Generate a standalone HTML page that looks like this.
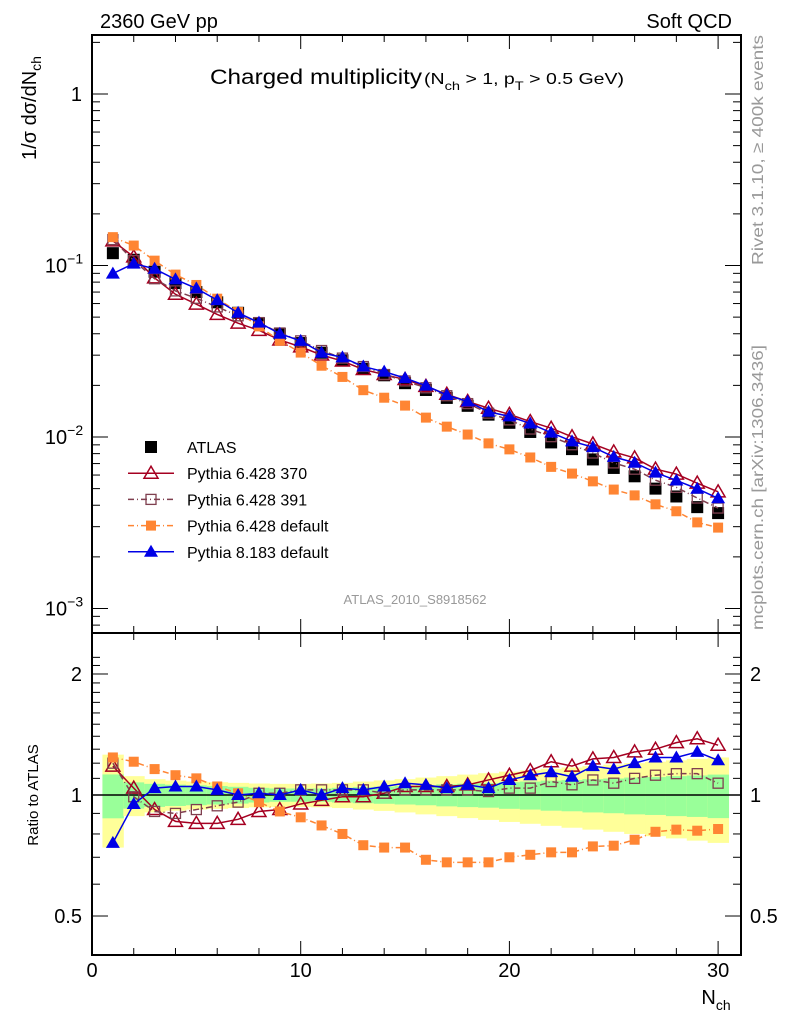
<!DOCTYPE html>
<html><head><meta charset="utf-8"><style>
body{margin:0;background:#fff;}
svg{display:block;font-family:"Liberation Sans",sans-serif;}
</style></head><body>
<svg id="c" width="786" height="1024" viewBox="0 0 786 1024" xmlns="http://www.w3.org/2000/svg">
<text x="100" y="28" font-size="20">2360 GeV pp</text>
<text x="732" y="28" font-size="20" text-anchor="end">Soft QCD</text>
<text x="210" y="84" font-size="21" textLength="212" lengthAdjust="spacingAndGlyphs">Charged multiplicity</text>
<text x="424" y="84" font-size="16" textLength="200" lengthAdjust="spacingAndGlyphs">(N<tspan font-size="12" dy="6">ch</tspan><tspan font-size="16" dy="-6"> &gt; 1, p</tspan><tspan font-size="12" dy="6">T</tspan><tspan font-size="16" dy="-6"> &gt; 0.5 GeV)</tspan></text>
<text x="415" y="604" font-size="13" fill="#999" text-anchor="middle">ATLAS_2010_S8918562</text>
<text transform="translate(763,265) rotate(-90)" font-size="16" fill="#999" textLength="230" lengthAdjust="spacingAndGlyphs">Rivet 3.1.10, ≥ 400k events</text>
<text transform="translate(763,630) rotate(-90)" font-size="16" fill="#999" textLength="285" lengthAdjust="spacingAndGlyphs">mcplots.cern.ch [arXiv:1306.3436]</text>
<text transform="translate(36,160) rotate(-90)" font-size="20">1/σ dσ/dN<tspan font-size="14" dy="5">ch</tspan></text>
<text transform="translate(38,795) rotate(-90)" font-size="15" text-anchor="middle">Ratio to ATLAS</text>
<text x="716" y="1004" font-size="20" text-anchor="middle">N<tspan font-size="14" dy="6">ch</tspan></text>
<g id="g"></g>
</svg>
<script>
const Ns=[1,2,3,4,5,6,7,8,9,10,11,12,13,14,15,16,17,18,19,20,21,22,23,24,25,26,27,28,29,30];
const atlas=[0.118,0.108,0.092,0.079,0.070,0.061,0.053,0.046,0.040,0.0353,0.031,0.028,0.025,0.0229,0.0206,0.0188,0.0169,0.0152,0.0135,0.0121,0.0107,0.0093,0.0085,0.0074,0.0066,0.0059,0.0050,0.0045,0.0039,0.0036];
const r370=[1.18,1.04,0.92,0.86,0.85,0.85,0.87,0.91,0.92,0.95,0.97,0.99,0.99,1.01,1.05,1.05,1.05,1.06,1.09,1.12,1.15,1.21,1.18,1.23,1.24,1.28,1.30,1.35,1.38,1.33];
const r391=[1.20,0.99,0.91,0.90,0.92,0.94,0.96,1.01,1.01,1.03,1.03,1.03,1.03,1.01,1.03,1.03,1.03,1.03,1.02,1.04,1.04,1.08,1.06,1.09,1.07,1.10,1.12,1.13,1.13,1.07];
const rdef=[1.24,1.21,1.16,1.12,1.10,1.05,1.01,0.96,0.91,0.88,0.84,0.80,0.75,0.74,0.74,0.69,0.68,0.68,0.68,0.70,0.71,0.72,0.72,0.745,0.748,0.774,0.81,0.82,0.815,0.823];
const r8=[0.76,0.95,1.04,1.05,1.05,1.03,1.00,1.01,1.00,1.03,1.00,1.04,1.03,1.05,1.07,1.06,1.04,1.06,1.04,1.09,1.12,1.14,1.11,1.18,1.16,1.20,1.24,1.24,1.28,1.22];
const statErr=[0.125,0.075,0.066,0.061,0.057,0.053,0.048,0.042,0.038,0.038,0.038,0.042,0.046,0.049,0.053,0.057,0.063,0.067,0.07,0.076,0.08,0.086,0.089,0.095,0.099,0.105,0.108,0.114,0.118,0.124];
const totErr=[0.26,0.114,0.095,0.086,0.08,0.076,0.072,0.068,0.066,0.066,0.068,0.072,0.08,0.087,0.095,0.105,0.114,0.124,0.133,0.143,0.152,0.162,0.171,0.18,0.19,0.2,0.21,0.22,0.23,0.24];
const xTicks=[0,10,20,30];
const yTicks=[{v:1,t:"1"},{v:0.1,t:"10",e:"−1"},{v:0.01,t:"10",e:"−2"},{v:0.001,t:"10",e:"−3"}];
const rTicks=[{v:2,t:"2"},{v:1,t:"1"},{v:0.5,t:"0.5"}];

const NS="http://www.w3.org/2000/svg";
const G=document.getElementById('g');
const L=92,R=741,T=35,M=633,B=955;
const X=v=>92+v*20.87;
const Y=v=>94-Math.log10(v)*171.5;
const RY=v=>795-Math.log10(v)*402;
function el(tag,a,p){const e=document.createElementNS(NS,tag);for(const k in a)e.setAttribute(k,a[k]);(p||G).appendChild(e);return e;}

for(let i=0;i<Ns.length;i++){
 const x0=X(Ns[i]-0.5),x1=X(Ns[i]+0.5);
 const y1=el('rect',{x:x0,y:RY(1+totErr[i]),width:x1-x0+0.5,height:RY(1-totErr[i])-RY(1+totErr[i]),fill:'#ffff99'});
 
 
 const g1=el('rect',{x:x0,y:RY(1+statErr[i]),width:x1-x0+0.5,height:RY(1-statErr[i])-RY(1+statErr[i]),fill:'#99ff99'});
 
 
}
const one=el('line',{x1:L,x2:R,y1:RY(1),y2:RY(1),stroke:'#000','stroke-width':1.5});



const f1=el('rect',{x:L,y:T,width:R-L,height:M-T,fill:'none',stroke:'#000','stroke-width':2});


const f2=el('rect',{x:L,y:M,width:R-L,height:B-M,fill:'none',stroke:'#000','stroke-width':2});



for(let v=0;v<=31;v+=2){
 const big=v%10===0,len=big?14:7;
 for(const [yt,yb] of [[T,M],[M,B]]){
  el('line',{x1:X(v),x2:X(v),y1:yt,y2:yt+len,stroke:'#000'});
  el('line',{x1:X(v),x2:X(v),y1:yb,y2:yb-len,stroke:'#000'});
 }
}
xTicks.forEach(v=>{const t=el('text',{x:X(v),y:977,'font-size':20,'text-anchor':'middle'});t.textContent=v;
 
 });
for(let d=-4;d<=0;d++)for(let m=1;m<10;m++){const v=m*Math.pow(10,d),y=Y(v);if(y<T||y>M)continue;const len=m===1?16:8;
 el('line',{x1:L,x2:L+len,y1:y,y2:y,stroke:'#000'});el('line',{x1:R,x2:R-len,y1:y,y2:y,stroke:'#000'});}
yTicks.forEach(o=>{const t=el('text',{x:o.e?64:82,y:Y(o.v)+7,'font-size':20,'text-anchor':o.e?'middle':'end'});t.textContent=o.t;
 if(o.e){const s=el('tspan',{dy:-9,'font-size':14},t);s.textContent=o.e;}
 
 });
for(let m=4;m<=22;m++){const v=m/10;const y=RY(v);if(y<M||y>B)continue;const big=(v===0.5||v===1||v===2);const len=big?16:8;
 el('line',{x1:L,x2:L+len,y1:y,y2:y,stroke:'#000'});el('line',{x1:R,x2:R-len,y1:y,y2:y,stroke:'#000'});}
rTicks.forEach(o=>{[[82,'end'],[750,'start']].forEach(([x,a])=>{const t=el('text',{x:x,y:RY(o.v)+7,'font-size':20,'text-anchor':a});t.textContent=o.t;
 
 });});

function marker(kind,col,x,y,p){
 if(kind==='sq')return el('rect',{x:x-5,y:y-5,width:10,height:10,fill:col},p);
 if(kind==='osq')return el('rect',{x:x-5,y:y-5,width:10,height:10,fill:'none',stroke:col,'stroke-width':1.3},p);
 if(kind==='ftri')return el('polygon',{points:`${x},${y-7} ${x-7},${y+5} ${x+7},${y+5}`,fill:col},p);
 if(kind==='otri')return el('polygon',{points:`${x},${y-7} ${x-7},${y+5} ${x+7},${y+5}`,fill:'none',stroke:col,'stroke-width':1.5},p);
 if(kind==='bsq')return el('rect',{x:x-6,y:y-6,width:12,height:12,fill:col},p);
}
const series=[
 {name:'pythia-6428-370',r:r370,col:'#a50021',m:'otri',dash:''},
 {name:'pythia-6428-391',r:r391,col:'#7f3f4f',m:'osq',dash:'6,3,1,3'},
 {name:'pythia-6428-default',r:rdef,col:'#ff8533',m:'sq',dash:'6,3,1,3'},
 {name:'pythia-8183-default',r:r8,col:'#0000e6',m:'ftri',dash:''}];

atlas.forEach((v,i)=>{const m=marker('bsq','#000',X(Ns[i]),Y(v));
 
 });

series.forEach(s=>{
 const mainPts=Ns.map((n,i)=>[X(n),Y(atlas[i]*s.r[i])]);
 const ratPts=Ns.map((n,i)=>[X(n),RY(s.r[i])]);
 [mainPts,ratPts].forEach((pts,k)=>{
  const g=el('g',{});
  
  
  el('polyline',{points:pts.map(p=>p.join(',')).join(' '),fill:'none',stroke:s.col,'stroke-width':1.5,'stroke-dasharray':s.dash},g);
  pts.forEach(p=>{const m=marker(s.m,s.col,p[0],p[1],g);
   
   });
 });
});

const lg=el('g',{});


const labels=['ATLAS','Pythia 6.428 370','Pythia 6.428 391','Pythia 6.428 default','Pythia 8.183 default'];
labels.forEach((lab,i)=>{
 const y=447+i*26.2;
 const e=el('g',{},lg);
 
 
 if(i===0)marker('bsq','#000',151,y,e);
 else{const s=series[i-1];el('line',{x1:128,x2:174,y1:y,y2:y,stroke:s.col,'stroke-width':1.5,'stroke-dasharray':s.dash},e);marker(s.m,s.col,151,y,e);}
 const t=el('text',{x:187,y:y+6,'font-size':16},e);t.textContent=lab;
});
</script>
</body></html>
